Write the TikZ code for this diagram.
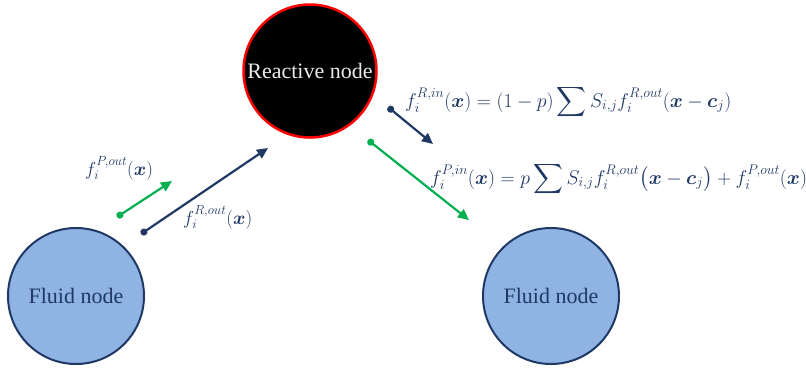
\RequirePackage{fix-cm}
\documentclass[tikz,border=0pt]{standalone}
\usepackage{amsmath}
\usepackage{bm}
\usepackage[no-math]{fontspec}
\setmainfont{Liberation Serif}
\usetikzlibrary{arrows.meta}
\definecolor{navy}{HTML}{1F3864}
\definecolor{grn}{HTML}{00B050}
\definecolor{fluidfill}{HTML}{8FB4E3}
\newcommand{\bx}{\bm{x}}
\newcommand{\bc}{\bm{c}}
\begin{document}
\begin{tikzpicture}[x=1pt,y=-1pt,
  fluid/.style={circle, draw=navy, line width=2pt, fill=fluidfill, minimum size=136pt, inner sep=0pt, text=navy, font=\fontsize{22}{26}\selectfont},
  reactive/.style={circle, draw=red, line width=2.5pt, fill=black, minimum size=133pt, inner sep=0pt, text=white!92!black, font=\fontsize{22}{26}\selectfont},
  flowarrow/.style={line width=2.2pt, {Circle[length=7pt]}-{Triangle[length=11pt,width=10pt]}},
  lbl/.style={text=navy, inner sep=0pt, anchor=base west, font=\fontsize{18.8}{22}\selectfont},
  eqn/.style={lbl, font=\fontsize{19.8}{23}\selectfont}]
\useasboundingbox (0,0) rectangle (806,368);
\node[reactive] (R) at (310,71) {Reactive node};
\node[fluid] (F1) at (76,296) {Fluid node};
\node[fluid] (F2) at (551,296) {Fluid node};
\coordinate (g1s) at (117,217);
\coordinate (g1e) at (172,181);
\coordinate (b1s) at (141,234);
\coordinate (b1e) at (268,148);
\coordinate (b2s) at (388,107);
\coordinate (b2e) at (433,144);
\coordinate (g2s) at (368,140);
\coordinate (g2e) at (469,220);
\draw[flowarrow, grn] (g1s) -- (g1e);
\draw[flowarrow, navy] (b1s) -- (b1e);
\draw[flowarrow, navy] (b2s) -- (b2e);
\draw[flowarrow, grn] (g2s) -- (g2e);
\node[lbl] (lP) at (85,175) {$f_i^{P,out}(\bx)$};
\node[lbl] (lR) at (183,224) {$f_i^{R,out}(\bx)$};
\node[eqn] (e1) at (405,107) {$f_i^{R,in}(\bx) = (1-p)\displaystyle\sum S_{i,j} f_i^{R,out}(\bx-\bc_j)$};
\node[eqn] (e2) at (430,184) {$f_i^{P,in}(\bx) = p\displaystyle\sum S_{i,j} f_i^{R,out}\big(\bx-\bc_j\big) + f_i^{P,out}(\bx)$};
\end{tikzpicture}
\end{document}
